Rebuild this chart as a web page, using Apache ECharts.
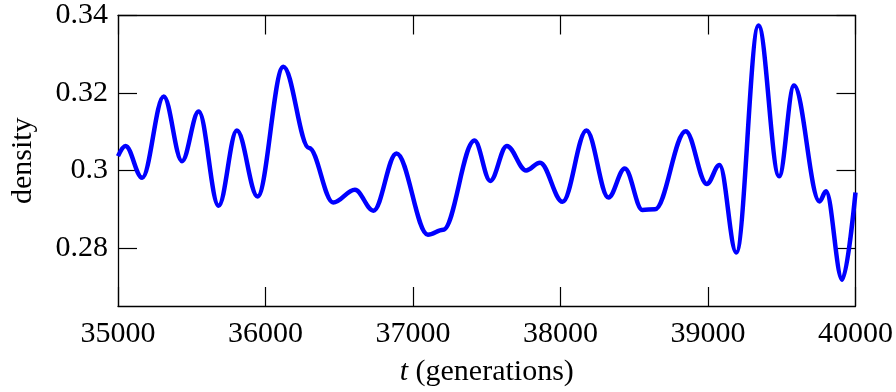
<!DOCTYPE html>
<html>
<head>
<meta charset="utf-8">
<script src="https://cdn.jsdelivr.net/npm/echarts@6/dist/echarts.min.js"></script>
<style>
  html, body { margin: 0; padding: 0; background: #fff; }
  #chart { width: 896px; height: 392px; }
</style>
</head>
<body>
<div id="chart"></div>
<script>
// turning points of the density curve
const generations = [35000, 35051, 35164, 35310, 35434, 35547, 35682, 35806, 35946, 36121,
  36295, 36459, 36606, 36732, 36888, 37101, 37205, 37417, 37524, 37636, 37767,
  37861, 38014, 38176, 38325, 38436, 38555, 38641, 38849, 38992, 39078,
  39192, 39342, 39482, 39583, 39756, 39800, 39910, 40000];
const density = [0.3037, 0.3063, 0.2981, 0.3191, 0.3024, 0.3152, 0.2909, 0.3103, 0.2933, 0.3268,
  0.3058, 0.2917, 0.2950, 0.2896, 0.3044, 0.2834, 0.2847, 0.3077, 0.2973, 0.3063, 0.3000,
  0.3020, 0.2919, 0.3103, 0.2930, 0.3005, 0.2898, 0.2900, 0.3101, 0.2965, 0.3014,
  0.2788, 0.3374, 0.2985, 0.3219, 0.2920, 0.2946, 0.2718, 0.2943];
const yTicks = [0.28, 0.30, 0.32, 0.34];

const font = 'Liberation Serif';
const chart = echarts.init(document.getElementById('chart'));

const frame = { show: true, lineStyle: { color: '#000', width: 1.3 } };
const tick = { show: true, inside: true, length: 19, lineStyle: { color: '#000', width: 1.2 } };

chart.setOption({
  animation: false,
  grid: { left: 117.5, right: 39, top: 15.5, bottom: 86 },
  xAxis: [
    {
      type: 'value', min: 35000, max: 40000, interval: 1000,
      axisLine: frame, axisTick: tick, splitLine: { show: false },
      axisLabel: { color: '#000', fontFamily: font, fontSize: 30, margin: 13, formatter: v => String(v) },
      name: '{i|t} (generations)', nameLocation: 'middle', nameGap: 51,
      nameTextStyle: {
        color: '#000', fontFamily: font, fontSize: 30,
        rich: { i: { fontStyle: 'italic', fontFamily: font, fontSize: 30, color: '#000' } }
      }
    },
    {
      type: 'value', position: 'top', min: 35000, max: 40000, interval: 1000,
      axisLine: frame, axisTick: tick, splitLine: { show: false },
      axisLabel: { show: false }
    }
  ],
  yAxis: [
    {
      type: 'value', min: 0.265, max: 0.34,
      axisLine: frame, splitLine: { show: false },
      axisTick: Object.assign({ customValues: yTicks }, tick),
      axisLabel: {
        customValues: yTicks, color: '#000', fontFamily: font, fontSize: 30, margin: 10,
        formatter: v => String(+v.toFixed(2))
      },
      name: 'density', nameLocation: 'middle', nameGap: 80,
      nameTextStyle: { color: '#000', fontFamily: font, fontSize: 30 }
    },
    {
      type: 'value', position: 'right', min: 0.265, max: 0.34,
      axisLine: frame, splitLine: { show: false },
      axisTick: Object.assign({ customValues: yTicks }, tick),
      axisLabel: { show: false }
    }
  ],
  series: [{
    type: 'line',
    data: generations.map((g, i) => [g, density[i]]),
    smooth: 0.36,
    smoothMonotone: 'x',
    showSymbol: false,
    lineStyle: { color: '#0000ff', width: 4.5 }
  }]
});
</script>
</body>
</html>
